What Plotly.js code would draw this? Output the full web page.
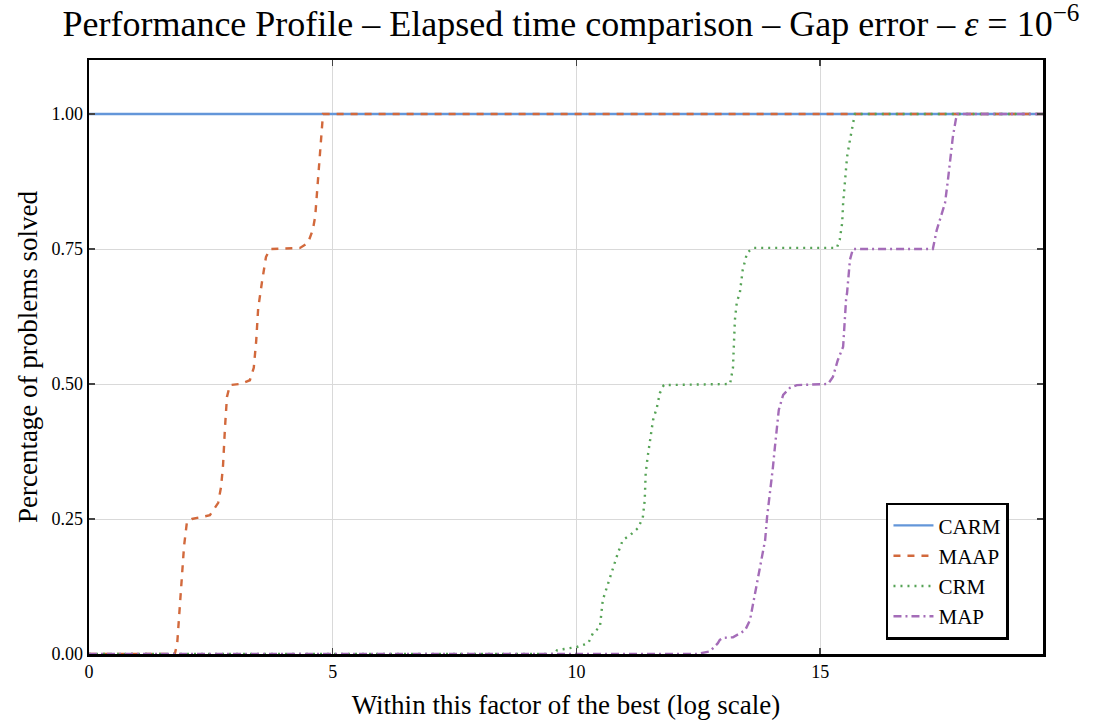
<!DOCTYPE html>
<html>
<head>
<meta charset="utf-8">
<script src="https://cdn.plot.ly/plotly-3.0.1.min.js"></script>
<style>html,body{margin:0;padding:0;background:#fff;}#chart{width:1098px;height:720px;}</style>
</head>
<body>
<div id="chart"></div>
<script>
// Series names
const seriesNames = ["CARM", "MAAP", "CRM", "MAP"];

// CARM: best everywhere
const carmX = [0, 19.57];
const carmY = [1.0, 1.0];

// MAAP
const maapX = [0, 1.76, 1.81, 1.87, 1.95, 2.01, 2.11, 2.48, 2.65, 2.71, 2.75, 2.79, 2.83, 2.89, 3.10, 3.30, 3.38, 3.43, 3.47, 3.55, 3.63, 3.71, 4.33, 4.49, 4.59, 4.64, 4.68, 4.74, 4.78, 4.80, 19.57];
const maapY = [0, 0, 0.02, 0.10, 0.20, 0.245, 0.25, 0.257, 0.28, 0.31, 0.35, 0.42, 0.476, 0.498, 0.50, 0.507, 0.53, 0.58, 0.64, 0.69, 0.735, 0.75, 0.752, 0.761, 0.785, 0.81, 0.86, 0.933, 0.993, 1.0, 1.0];

// CRM
const crmX = [0, 9.56, 9.60, 10.01, 10.24, 10.34, 10.48, 10.54, 10.65, 10.75, 10.85, 10.95, 11.10, 11.26, 11.36, 11.40, 11.42, 11.46, 11.52, 11.57, 11.65, 11.71, 11.79, 13.15, 13.21, 13.23, 13.25, 13.29, 13.35, 13.41, 13.50, 13.62, 15.34, 15.40, 15.45, 15.47, 15.51, 15.55, 15.61, 15.65, 15.71, 19.57];
const crmY = [0, 0, 0.007, 0.013, 0.02, 0.039, 0.05, 0.10, 0.131, 0.161, 0.187, 0.211, 0.22, 0.233, 0.252, 0.285, 0.335, 0.365, 0.402, 0.433, 0.457, 0.483, 0.498, 0.50, 0.53, 0.569, 0.619, 0.652, 0.668, 0.711, 0.743, 0.752, 0.752, 0.767, 0.798, 0.835, 0.878, 0.92, 0.952, 0.97, 1.0, 1.0];

// MAP
const mapX = [0, 12.47, 12.74, 12.80, 12.90, 12.94, 13.01, 13.21, 13.46, 13.56, 13.66, 13.76, 13.87, 13.91, 13.97, 14.03, 14.07, 14.11, 14.15, 14.24, 14.38, 14.52, 15.16, 15.26, 15.36, 15.47, 15.49, 15.53, 15.55, 15.61, 15.67, 17.31, 17.39, 17.50, 17.56, 17.62, 17.68, 17.72, 17.78, 17.81, 19.57];
const mapY = [0, 0, 0.005, 0.01, 0.02, 0.026, 0.03, 0.031, 0.044, 0.063, 0.113, 0.161, 0.211, 0.254, 0.298, 0.346, 0.383, 0.42, 0.452, 0.48, 0.493, 0.498, 0.50, 0.513, 0.544, 0.569, 0.606, 0.656, 0.668, 0.73, 0.75, 0.75, 0.785, 0.816, 0.835, 0.878, 0.928, 0.957, 0.989, 1.0, 1.0];

const xTicks = [0, 5, 10, 15];
const yTicks = [0, 0.25, 0.5, 0.75, 1.0];

const colors = ["#6396d9", "#d2693c", "#56a356", "#a46cb8"];
const dashes = ["solid", "7px,7px", "2px,5px", "8px,4px,2px,4px"];
const xs = [carmX, maapX, crmX, mapX];
const ys = [carmY, maapY, crmY, mapY];

const traces = seriesNames.map((n, i) => ({
  x: xs[i], y: ys[i], name: n, type: "scatter", mode: "lines",
  line: {color: colors[i], width: 2.4, dash: dashes[i], shape: "linear"}
}));

const font = "'Liberation Serif', 'DejaVu Serif', serif";
const layout = {
  width: 1098, height: 720,
  margin: {l: 89, r: 55, t: 60, b: 66},
  paper_bgcolor: "#fff", plot_bgcolor: "#fff",
  font: {family: font, color: "#000", size: 18},
  title: {text: "Performance Profile – Elapsed time comparison – Gap error – <i>ε</i> = 10<sup>−6</sup>",
          font: {family: font, size: 36}, x: 0.52, xanchor: "center", y: 0.968, yanchor: "middle"},
  xaxis: {
    range: [0, 19.57], tickvals: xTicks, ticktext: xTicks.map(String),
    showgrid: true, gridcolor: "#d9d9d9", gridwidth: 1, zeroline: false,
    showline: true, linecolor: "#000", linewidth: 2.5, mirror: "allticks",
    ticks: "inside", ticklen: 6, tickcolor: "#444", tickwidth: 1.5,
    tickfont: {family: font, size: 18},
    title: {text: "Within this factor of the best (log scale)", font: {family: font, size: 27}, standoff: 14}
  },
  yaxis: {
    range: [0, 1.1], tickvals: yTicks, ticktext: yTicks.map(v => v.toFixed(2)),
    showgrid: true, gridcolor: "#d9d9d9", gridwidth: 1, zeroline: false,
    showline: true, linecolor: "#000", linewidth: 2.5, mirror: "allticks",
    ticks: "inside", ticklen: 6, tickcolor: "#444", tickwidth: 1.5,
    tickfont: {family: font, size: 18},
    title: {text: "Percentage of problems solved", font: {family: font, size: 27}, standoff: 6}
  },
  legend: {
    x: 0.8354, y: 0.024, xanchor: "left", yanchor: "bottom",
    bgcolor: "#fff", bordercolor: "#000", borderwidth: 2.5,
    font: {family: font, size: 21}, tracegroupgap: 0, itemwidth: 40
  },
  showlegend: true
};

Plotly.newPlot("chart", traces, layout, {displayModeBar: false, staticPlot: true});
</script>
</body>
</html>
